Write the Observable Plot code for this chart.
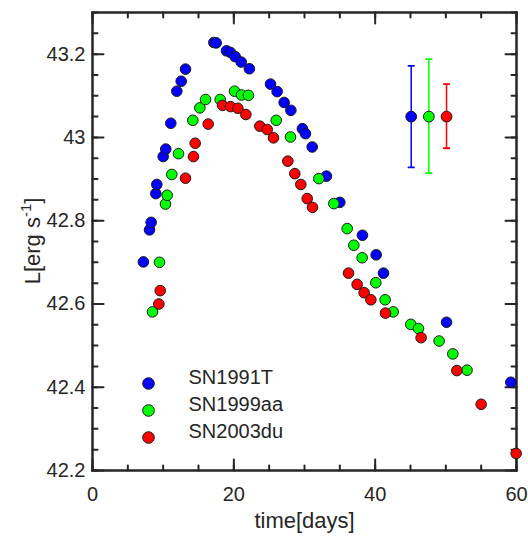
<!DOCTYPE html>
<html><head><meta charset="utf-8">
<script src="https://cdn.jsdelivr.net/npm/d3@7"></script>
<script src="https://cdn.jsdelivr.net/npm/@observablehq/plot@0.6"></script>
<style>
body{margin:0;background:#fff;}
#chart{width:528px;height:536px;}
</style>
</head><body><div id="chart"></div>
<script>
// ---- data ----
const seriesNames = ["SN1991T", "SN1999aa", "SN2003du"];
const seriesColors = ["#0000ff", "#00ff00", "#ff0000"];

const t1991 = [7.2, 8.07, 8.3, 8.96, 9.1, 10.0, 10.37, 11.08, 11.93, 12.55, 13.16, 17.17, 17.5, 18.96, 19.53, 20.19, 21.04, 22.2, 25.19, 26.13, 27.12, 28.07, 29.7, 30.14, 31.09, 33.1, 35.0, 38.2, 40.14, 41.18, 50.1, 59.2];
const L1991 = [42.701, 42.778, 42.796, 42.865, 42.887, 42.954, 42.972, 43.034, 43.111, 43.135, 43.164, 43.228, 43.227, 43.208, 43.204, 43.194, 43.181, 43.165, 43.128, 43.110, 43.084, 43.065, 43.021, 43.009, 42.977, 42.907, 42.844, 42.765, 42.718, 42.674, 42.556, 42.412];

const t1999 = [8.49, 9.48, 10.33, 10.57, 11.22, 12.17, 14.2, 15.19, 16.0, 18.07, 20.1, 21.08, 22.07, 26.0, 28.02, 32.03, 34.15, 36.04, 36.98, 38.16, 40.09, 41.41, 42.55, 45.04, 46.13, 49.05, 50.99, 53.0];
const L1999 = [42.581, 42.700, 42.840, 42.861, 42.911, 42.961, 43.041, 43.071, 43.091, 43.091, 43.111, 43.102, 43.101, 43.041, 43.001, 42.901, 42.841, 42.781, 42.741, 42.711, 42.651, 42.610, 42.581, 42.551, 42.541, 42.511, 42.480, 42.441];

const t2003 = [9.39, 9.58, 13.16, 14.29, 14.53, 16.37, 18.4, 19.53, 20.57, 21.7, 23.68, 24.72, 25.61, 27.64, 28.63, 29.48, 30.38, 31.13, 36.23, 37.45, 38.44, 39.39, 41.46, 46.5, 51.56, 55.0, 59.95];
const L2003 = [42.600, 42.632, 42.902, 42.954, 42.986, 43.032, 43.077, 43.074, 43.070, 43.055, 43.027, 43.019, 42.999, 42.943, 42.913, 42.887, 42.853, 42.832, 42.674, 42.647, 42.627, 42.610, 42.578, 42.519, 42.440, 42.359, 42.241];

// representative error bars
const errT = [45.1, 47.6, 50.1];
const errL = [43.05, 43.05, 43.05];
const errHi = [43.172, 43.188, 43.128];
const errLo = [42.928, 42.914, 42.974];

// axis ticks
const xMajor = [0, 20, 40, 60];
const xMinor = [0, 5, 10, 15, 20, 25, 30, 35, 40, 45, 50, 55, 60];
const yMajor = [42.2, 42.4, 42.6, 42.8, 43, 43.2];
const yMinor = [42.2, 42.25, 42.3, 42.35, 42.4, 42.45, 42.5, 42.55, 42.6, 42.65, 42.7, 42.75, 42.8, 42.85, 42.9, 42.95, 43, 43.05, 43.1, 43.15, 43.2, 43.25, 43.3];

// ---- build tables ----
const tArr = [t1991, t1999, t2003];
const LArr = [L1991, L1999, L2003];
const rows = [];
seriesNames.forEach((name, s) => tArr[s].forEach((t, i) => rows.push({series: name, t, L: LArr[s][i]})));
const errRows = seriesNames.map((name, i) => ({series: name, t: errT[i], L: errL[i], hi: errHi[i], lo: errLo[i]}));

const ink = "#262626";
const font = "'Liberation Sans', Arial, Helvetica, sans-serif";
const tickShape = {draw(ctx, l) { ctx.moveTo(0, 0); ctx.lineTo(0, -l); }};
const capShape = {draw(ctx, l) { ctx.moveTo(-l / 2, 0); ctx.lineTo(l / 2, 0); }};

function ticks(data, dim, anchor, rotate, len) {
  const o = {frameAnchor: anchor, rotate, length: len, anchor: "start", shape: tickShape, stroke: ink, strokeWidth: 2};
  o[dim] = d => d;
  return Plot.vector(data, o);
}

const marks = [
  Plot.frame({stroke: ink, strokeWidth: 2.5}),
  ticks(xMinor, "x", "bottom", 0, 5), ticks(xMajor, "x", "bottom", 0, 11),
  ticks(xMinor, "x", "top", 180, 5), ticks(xMajor, "x", "top", 180, 11),
  ticks(yMinor, "y", "left", 90, 5), ticks(yMajor, "y", "left", 90, 11),
  ticks(yMinor, "y", "right", -90, 5), ticks(yMajor, "y", "right", -90, 11),
  Plot.axisX(xMajor, {anchor: "bottom", tickSize: 0, tickPadding: 16, fontSize: 20, label: null, fill: ink}),
  Plot.axisY(yMajor, {anchor: "left", tickSize: 0, tickPadding: 7, fontSize: 20, label: null, fill: ink,
    tickFormat: d => String(+d.toFixed(1))}),
  Plot.text(["time[days]"], {text: d => d, frameAnchor: "bottom", dy: 50, fontSize: 22, fill: ink, lineAnchor: "middle"}),
  // error bars
  Plot.ruleX(errRows, {x: "t", y1: "lo", y2: "hi", stroke: "series", strokeWidth: 1.5}),
  Plot.vector(errRows, {x: "t", y: "hi", length: 5.5, rotate: 0, anchor: "start", shape: capShape, stroke: "series", strokeWidth: 1.8}),
  Plot.vector(errRows, {x: "t", y: "lo", length: 5.5, rotate: 0, anchor: "start", shape: capShape, stroke: "series", strokeWidth: 1.8}),
  Plot.dot(errRows, {x: "t", y: "L", fill: "series", stroke: "#1a1a1a", strokeWidth: 1, r: 5.4}),
  // data points
  Plot.dot(rows, {x: "t", y: "L", fill: "series", stroke: "#1a1a1a", strokeWidth: 1, r: 5.3})
];

// legend inside the axes (bottom-left)
seriesNames.forEach((name, i) => {
  const dy = -87 + 27 * i;
  marks.push(Plot.dot([name], {frameAnchor: "bottom-left", dx: 56, dy, fill: d => d, stroke: "#1a1a1a", strokeWidth: 1, r: 5.8}));
  marks.push(Plot.text([name], {text: d => d, frameAnchor: "bottom-left", dx: 96, dy, textAnchor: "start", fontSize: 20, fill: ink}));
});

const plot = Plot.plot({
  width: 528,
  height: 536,
  marginTop: 12,
  marginRight: 12,
  marginBottom: 66,
  marginLeft: 92,
  style: {fontFamily: font, background: "#fff", color: ink},
  x: {domain: [0, 60]},
  y: {domain: [42.2, 43.3]},
  color: {domain: seriesNames, range: seriesColors},
  marks
});

// y-axis label with a superscript
const svg = d3.select(plot);
const yl = svg.append("text")
  .attr("transform", "translate(40,241) rotate(-90)")
  .attr("text-anchor", "middle")
  .attr("font-size", 22)
  .attr("font-family", font)
  .attr("fill", ink);
yl.append("tspan").text("L[erg s");
yl.append("tspan").attr("font-size", 15).attr("dy", -9).text("-1");
yl.append("tspan").attr("dy", 9).text("]");

document.getElementById("chart").appendChild(plot);
</script>
</body></html>
